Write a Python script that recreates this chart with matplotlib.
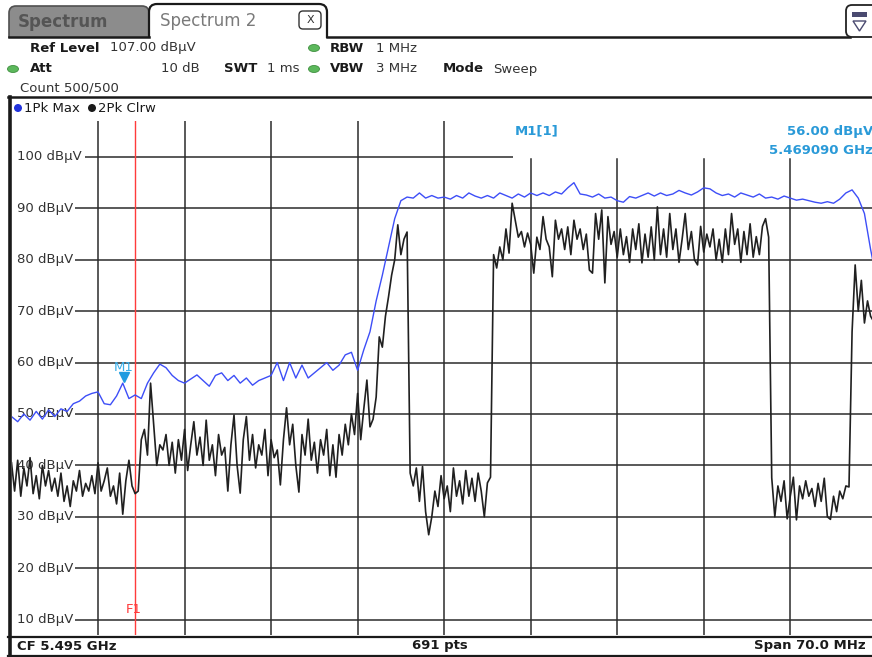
import numpy as np
import matplotlib
matplotlib.use("Agg")
import matplotlib.pyplot as plt
from matplotlib.patches import Rectangle, FancyBboxPatch, Ellipse, Polygon

# sweep settings (MHz)
f_start = 5460.0
f_stop = 5530.0
ref_level = 107.0
db_bottom = 7.0

# trace 2 (Clrw), one value every 0.25 MHz from f_start
clrw_db = [
    40.5, 35, 41, 34, 39.5, 36, 41.5, 34.5, 38, 33.5,
    40, 36, 39, 35, 37.5, 34, 38.5, 33, 36, 32,
    37, 35, 39, 34, 36.5, 35, 38, 34.5, 40.5, 35,
    37, 39.5, 34, 36, 32.5, 38.5, 30.5, 37, 41, 36, 34.5,
    35, 45, 47, 42, 56, 48, 40, 44,
    43, 46, 40, 44.5, 38.5, 45, 41, 47, 39, 44,
    48.5, 42, 45.5, 40, 48.8, 41, 44, 38, 46, 42,
    43.5, 35, 44, 49.8, 40, 34.6, 45, 49.5, 41, 46,
    39.5, 44, 42, 47, 38, 45, 41.5, 43, 36.2, 45,
    51.2, 44, 48, 40, 34.8, 46, 42, 49, 41, 44.5,
    38.5, 45, 42, 47, 38, 44, 37.7, 46, 42, 48,
    44, 50, 46, 54, 45, 51,
    56.6, 47.5, 49, 53.3, 65, 63, 69, 72.8, 77, 80,
    86.8, 81, 84, 85.4,
    38.5, 36, 39.5, 33, 39.8, 31, 26.5, 30, 35, 32,
    38, 33.5, 36, 31, 39.5, 34, 37, 32.5, 39, 34,
    37.5, 33, 38.5, 35, 30, 36.6, 37.7,
    81, 78.4, 82.5, 80, 86, 81.3, 91, 87.7, 84.4, 85.5,
    82.5, 85.2, 83, 77.4, 84.4, 82, 88.4, 84, 82.5, 76.7,
    87.7, 84, 86, 82, 86.4, 81, 87.7, 84, 86, 82,
    85, 78, 77.4, 89, 84, 89.7, 75.5, 88.4, 83, 85.5,
    80.5, 86, 81, 84.5, 79.5, 86, 82, 87, 79.4, 85,
    80.5, 86.4, 80, 90.3, 81, 86, 80.5, 89, 82, 86,
    79.5, 84, 89, 82, 85.5, 80, 79, 86.5, 81.5, 85,
    82.5, 86, 80, 84, 79.5, 86, 81, 89, 83, 86,
    79.5, 85.5, 81, 87, 80.5, 84.5, 81, 86.5, 88, 84.4,
    37.6, 30, 36, 33, 37, 29.6, 34, 37.7, 29.4, 36,
    33.5, 37, 34, 35.5, 32, 36.5, 33, 37.5, 30, 29.5,
    34, 31, 35, 33.5, 36, 35.8,
    66, 79, 70, 76, 67.7, 72, 69, 68, 68,
]

# trace 1 (Max hold), one value every 0.5 MHz from f_start
max_db = [
    49.5, 48.5, 50, 48.8, 50.5, 49, 50.8, 49.5, 51, 50.5,
    52, 52.5, 53.5, 54, 54.3, 52, 51.8, 53.5, 56, 53,
    53.7, 53, 56, 58, 59.7, 59, 57.5, 56.5, 56, 56.8,
    57.6, 56.5, 55.4, 57.5, 58, 56.5, 57.5, 56, 57, 55.6,
    56.5, 57, 57.5, 60, 56.5, 60, 57, 59.5, 57, 58,
    59, 60, 58.5, 59.5, 61.5, 62, 58.5, 62.5, 66, 72,
    77, 82.5, 88, 91.5, 92.2, 92, 93, 92, 92.5, 92,
    92.2, 91.8, 92.5, 92, 93, 92.4, 92, 92.5, 92, 93,
    92.5, 92, 92.8, 92.2, 93, 92.5, 93, 92.5, 93.2, 92.8,
    94, 95, 92.8, 92.6, 92.2, 92.8, 92, 92.2, 91.5, 91.2,
    92.3, 92, 92.5, 93, 92.4, 93, 92.5, 92.8, 93.5, 93,
    92.6, 93.2, 94, 93.8, 93, 92.5, 92.8, 92.2, 93, 92.6,
    92.2, 92.8, 92, 92.2, 91.8, 92.4, 92, 91.6, 91.8, 91.5,
    91.2, 91, 91.3, 91, 91.8, 93, 93.6, 92, 89, 82, 76,
]

marker_f = 5469.09
marker_db = 56.0
f1_line = 5470.0
db_ticks = [10, 20, 30, 40, 50, 60, 70, 80, 90, 100]

clrw_f = f_start + 0.25 * np.arange(len(clrw_db))
max_f = f_start + 0.5 * np.arange(len(max_db))

W, H = 872, 657
fig = plt.figure(figsize=(W / 100, H / 100), dpi=100)
fig.patch.set_facecolor("white")

# pixel overlay for the instrument chrome
hud = fig.add_axes([0, 0, 1, 1], zorder=0)
hud.set_xlim(0, W)
hud.set_ylim(H, 0)
hud.axis("off")

# diagram
x0, x1 = 11.5, 876.8
y0, y1 = 121.0, 635.0
ax = fig.add_axes([x0 / W, 1 - y1 / H, (x1 - x0) / W, (y1 - y0) / H], zorder=2)
ax.patch.set_alpha(0)
ax.set_xlim(f_start, f_stop)
ax.set_ylim(db_bottom, ref_level)
for s in ax.spines.values():
    s.set_visible(False)
ax.set_xticks([])
ax.set_yticks([])

grid_c = "#2b2b2b"
for v in db_ticks:
    # grid line starts right after its label
    g0 = 5465.95 if v == 100 else 5465.15
    g1 = 5500.6 if v == 100 else f_stop
    ax.hlines(v, g0, g1, color=grid_c, lw=1.1, zorder=1)
    ax.text(f_start + 0.45, v, f"{v} dBµV", ha="left", va="center", fontsize=9.5,
            color="#333333", zorder=2)
for k in range(1, 10):
    fx = f_start + 7 * k
    top = 1.0
    if fx > 5500:
        top = (99.6 - db_bottom) / (ref_level - db_bottom)
    ax.axvline(fx, ymin=0, ymax=top, color=grid_c, lw=1.1, zorder=1)

# F1 line
ax.axvline(f1_line, color="#ff3b3b", lw=1.0, zorder=2.5)
ax.text(f1_line - 0.15, 11.9, "F1", color="#ff3b3b", fontsize=9.5, ha="center",
        va="center", zorder=2.6)

# traces
ax.plot(clrw_f, clrw_db, color="#202020", lw=1.2, zorder=3)
ax.plot(max_f, max_db, color="#3d4ef7", lw=1.0, zorder=4)

# marker M1
ax.plot([marker_f], [marker_db + 1.2], marker="v", color="#1f9be0", ms=7, zorder=5)
ax.text(marker_f, marker_db + 3.0, "M1", color="#3aaee8", fontsize=9.5, ha="center",
        va="center", zorder=5)

# marker readout
mk_c = "#2a9ad8"
hud.text(515, 131, "M1[1]", color=mk_c, fontsize=9.5, fontweight="bold", va="center")
hud.text(873, 131, "56.00 dBµV", color=mk_c, fontsize=9.5, fontweight="bold",
         va="center", ha="right")
hud.text(873, 151, "5.469090 GHz", color=mk_c, fontsize=9.5, fontweight="bold",
         va="center", ha="right")

# tabs
hud.add_patch(FancyBboxPatch((9, 6), 140, 40, boxstyle="round,pad=0,rounding_size=7",
                             facecolor="#8c8c8c", edgecolor="#505050", lw=1.2))
hud.add_patch(FancyBboxPatch((149, 4), 178, 44, boxstyle="round,pad=0,rounding_size=8",
                             facecolor="white", edgecolor="#1a1a1a", lw=1.6))
hud.add_patch(Rectangle((0, 37.5), W, 60, facecolor="white", edgecolor="none", zorder=2))
hud.plot([327, 850], [37, 37], color="#1a1a1a", lw=1.8, zorder=3)
hud.plot([9, 149], [37, 37], color="#1a1a1a", lw=1.8, zorder=3)
hud.text(18, 22, "Spectrum", color="#555555", fontsize=12, fontweight="bold", va="center")
hud.text(160, 21, "Spectrum 2", color="#7a7a7a", fontsize=12, va="center")
hud.add_patch(FancyBboxPatch((299, 11), 22, 18, boxstyle="round,pad=0,rounding_size=4",
                             facecolor="white", edgecolor="#333333", lw=1.0))
hud.text(310, 20, "X", color="#333333", fontsize=8, ha="center", va="center")

# menu icon top right
hud.add_patch(FancyBboxPatch((846, 5), 34, 32, boxstyle="round,pad=0,rounding_size=6",
                             facecolor="white", edgecolor="#222222", lw=1.3, zorder=3))
hud.add_patch(Rectangle((852, 12), 15, 5, facecolor="#4a4a70", edgecolor="none", zorder=4))
hud.add_patch(Polygon([[853, 21], [866, 21], [859.5, 31]], closed=True,
                      facecolor="white", edgecolor="#4a4a70", lw=1.0, zorder=4))

# header settings
lab = dict(fontsize=9.5, fontweight="bold", color="#1a1a1a", va="center", zorder=4)
val = dict(fontsize=9.5, color="#333333", va="center", zorder=4)
hud.text(30, 48, "Ref Level", **lab)
hud.text(110, 48, "107.00 dBµV", **val)
hud.text(30, 69, "Att", **lab)
hud.text(200, 69, "10 dB", ha="right", **val)
hud.text(224, 69, "SWT", **lab)
hud.text(267, 69, "1 ms", **val)
hud.text(330, 48, "RBW", **lab)
hud.text(376, 48, "1 MHz", **val)
hud.text(330, 69, "VBW", **lab)
hud.text(376, 69, "3 MHz", **val)
hud.text(443, 69, "Mode", **lab)
hud.text(493, 69, "Sweep", **val)
hud.text(20, 88, "Count 500/500", **val)
for (ex, ey) in [(314, 48), (314, 69), (13, 69)]:
    hud.add_patch(Ellipse((ex, ey), 11, 7, facecolor="#5cb85c", edgecolor="#3f8f3f",
                          lw=0.6, zorder=4))

# frames
hud.plot([8, W], [97, 97], color="#1a1a1a", lw=1.8, zorder=4)
hud.plot([9.5, 9.5], [97, H], color="#1a1a1a", lw=2.6, zorder=4)
hud.plot([8, W], [637, 637], color="#1a1a1a", lw=1.6, zorder=4)
hud.plot([8, W], [655.5, 655.5], color="#1a1a1a", lw=1.6, zorder=4)

# trace legend
hud.add_patch(Ellipse((18, 108), 8, 8, facecolor="#2233dd", edgecolor="none", zorder=4))
hud.text(24, 108, "1Pk Max", fontsize=9.5, color="#1a1a1a", va="center", zorder=4)
hud.add_patch(Ellipse((92, 108), 8, 8, facecolor="#1a1a1a", edgecolor="none", zorder=4))
hud.text(98, 108, "2Pk Clrw", fontsize=9.5, color="#1a1a1a", va="center", zorder=4)

# footer
foot = dict(fontsize=9.5, fontweight="bold", color="#1a1a1a", va="center", zorder=4)
hud.text(17, 646, "CF 5.495 GHz", **foot)
hud.text(440, 646, "691 pts", ha="center", **foot)
hud.text(866, 646, "Span 70.0 MHz", ha="right", **foot)

fig.savefig("out.png", dpi=100)
